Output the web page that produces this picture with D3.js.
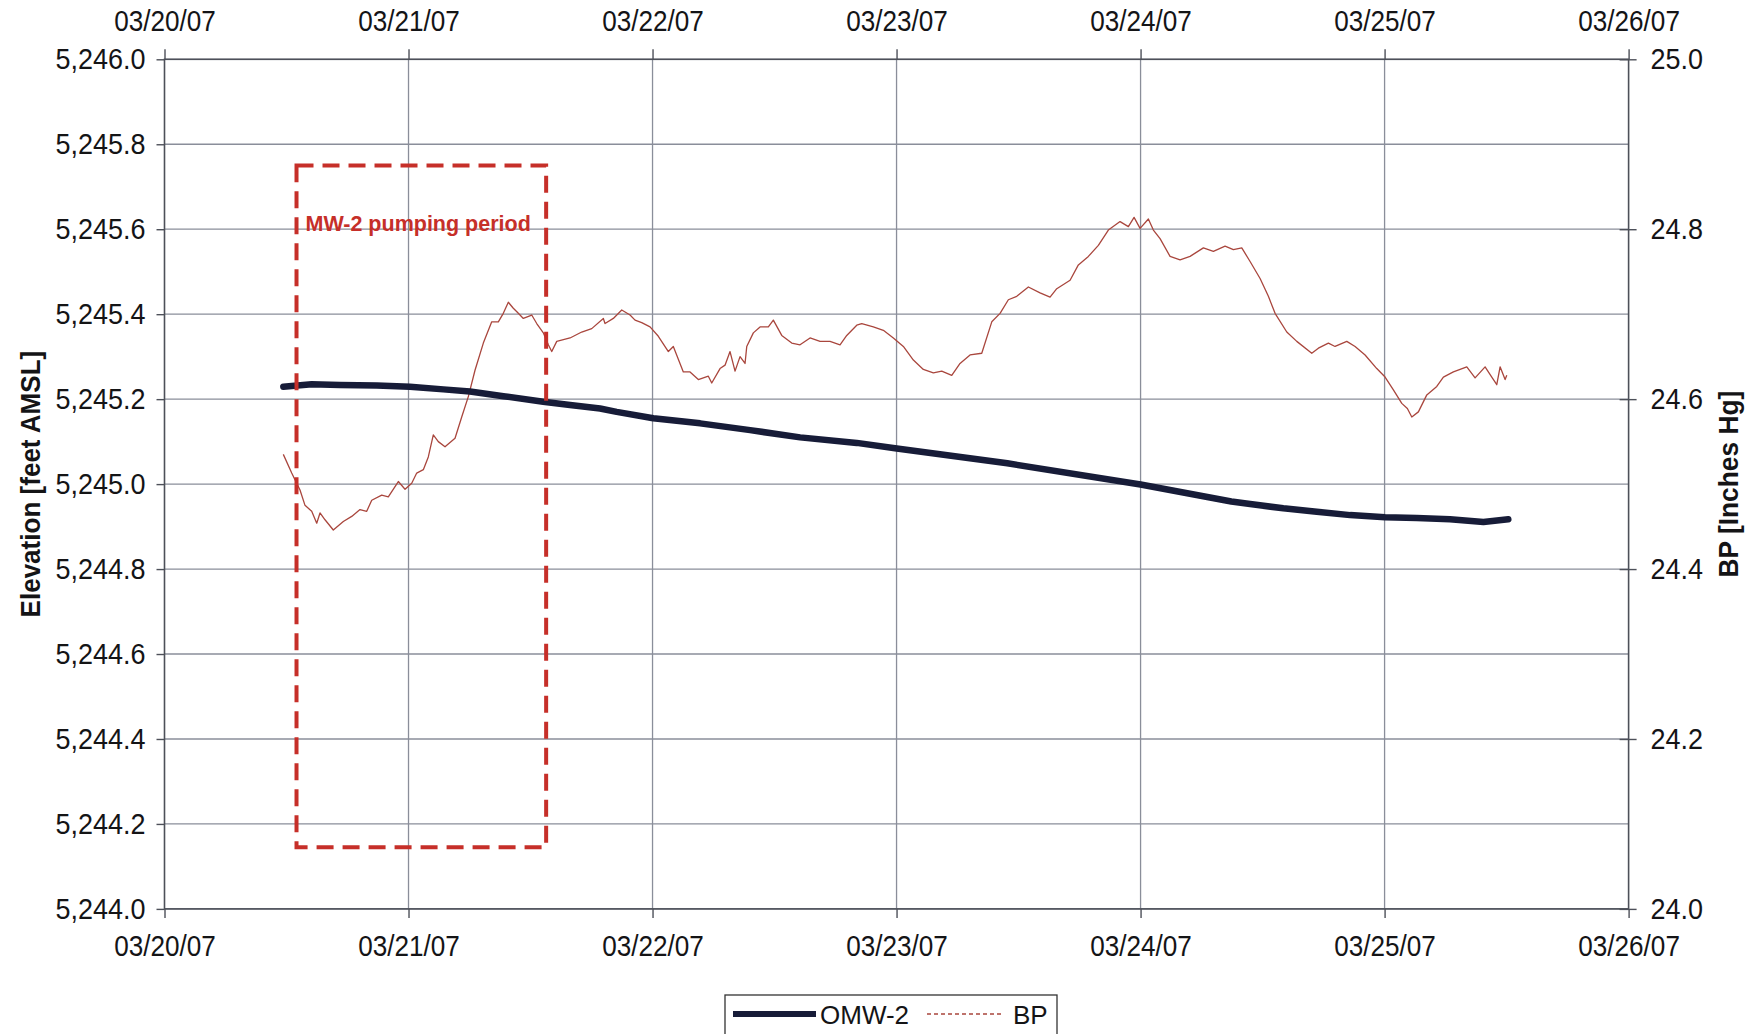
<!DOCTYPE html>
<html><head><meta charset="utf-8">
<script src="https://cdn.jsdelivr.net/npm/d3@7"></script>
<style>
html,body{margin:0;padding:0;background:#fff;}
svg{display:block;font-family:"Liberation Sans",Arial,sans-serif;}
</style></head>
<body>
<svg id="chart" width="1755" height="1034"></svg>
<script>
// ---------- DATA ----------
const startDate = new Date(2007, 2, 20); // 03/20/07
const xTickLabels = ["03/20/07","03/21/07","03/22/07","03/23/07","03/24/07","03/25/07","03/26/07"];
const leftTickLabels = ["5,244.0","5,244.2","5,244.4","5,244.6","5,244.8","5,245.0","5,245.2","5,245.4","5,245.6","5,245.8","5,246.0"];
const rightTickLabels = ["24.0","24.2","24.4","24.6","24.8","25.0"];

// OMW-2 elevation (feet AMSL), time in days after 03/20/07 00:00
const omwDays = [0.487,0.603,0.719,0.870,1.006,1.143,1.252,1.389,1.552,1.662,1.785,1.853,2.003,2.195,2.400,2.605,2.837,3.001,3.454,4.000,4.372,4.449,4.585,4.722,4.859,5.002,5.132,5.268,5.405,5.507];
const omwElev = [5245.229,5245.235,5245.233,5245.232,5245.229,5245.223,5245.218,5245.207,5245.194,5245.186,5245.178,5245.170,5245.155,5245.143,5245.127,5245.110,5245.097,5245.084,5245.049,5244.999,5244.959,5244.953,5244.943,5244.935,5244.927,5244.922,5244.920,5244.917,5244.911,5244.917];

// Barometric pressure (inches Hg)
const bpDays = [0.4869,0.5213,0.5553,0.5758,0.6033,0.6238,0.6373,0.6578,0.6918,0.7328,0.7672,0.8012,0.8287,0.8492,0.8902,0.9172,0.9582,0.9857,1.0131,1.0336,1.0607,1.0811,1.1016,1.1221,1.1496,1.1906,1.2180,1.2451,1.2725,1.3066,1.3410,1.3680,1.3885,1.4090,1.4295,1.4500,1.4705,1.5049,1.5254,1.5525,1.5730,1.5869,1.6074,1.6619,1.7098,1.7508,1.7984,1.8053,1.8393,1.8738,1.9078,1.9283,1.9557,1.9898,2.0238,2.0648,2.0852,2.1262,2.1537,2.1877,2.2287,2.2426,2.2766,2.2971,2.3176,2.3381,2.3586,2.3791,2.3861,2.4131,2.4406,2.4746,2.4951,2.5295,2.5705,2.6045,2.6455,2.6865,2.7275,2.7684,2.7959,2.8369,2.8574,2.9049,2.9459,2.9869,3.0279,3.0689,3.1098,3.1508,3.1852,3.2262,3.2602,3.3012,3.3492,3.3902,3.4242,3.4582,3.4926,3.5402,3.5881,3.6291,3.6566,3.7111,3.7451,3.7861,3.8270,3.8680,3.9160,3.9500,3.9734,3.9980,4.0320,4.0525,4.0799,4.1209,4.1619,4.2029,4.2574,4.2984,4.3463,4.3803,4.4148,4.4488,4.4898,4.5238,4.5512,4.5992,4.6402,4.7016,4.7287,4.7697,4.7971,4.8451,4.8791,4.9201,4.9680,5.0020,5.0361,5.0705,5.0934,5.1115,5.1385,5.1730,5.2139,5.2410,5.2820,5.3369,5.3709,5.4119,5.4393,5.4598,5.4734,5.4939,5.5008];
const bpValues = [24.535,24.513,24.493,24.475,24.468,24.454,24.466,24.458,24.446,24.456,24.462,24.470,24.468,24.481,24.487,24.485,24.503,24.494,24.501,24.513,24.517,24.532,24.558,24.550,24.544,24.554,24.579,24.603,24.634,24.666,24.691,24.691,24.701,24.714,24.707,24.701,24.695,24.699,24.689,24.678,24.664,24.656,24.668,24.672,24.679,24.683,24.695,24.689,24.695,24.705,24.699,24.693,24.690,24.685,24.674,24.656,24.662,24.632,24.632,24.623,24.627,24.619,24.636,24.640,24.656,24.633,24.650,24.642,24.662,24.678,24.685,24.685,24.693,24.675,24.666,24.664,24.672,24.668,24.668,24.664,24.675,24.687,24.689,24.685,24.681,24.672,24.662,24.646,24.635,24.631,24.633,24.628,24.642,24.652,24.654,24.691,24.701,24.717,24.721,24.732,24.725,24.720,24.730,24.740,24.758,24.768,24.781,24.799,24.809,24.803,24.814,24.801,24.812,24.799,24.789,24.768,24.764,24.768,24.778,24.774,24.780,24.776,24.778,24.762,24.742,24.721,24.701,24.679,24.668,24.654,24.660,24.666,24.662,24.668,24.662,24.652,24.636,24.626,24.611,24.595,24.589,24.579,24.585,24.605,24.615,24.626,24.632,24.638,24.625,24.638,24.626,24.617,24.638,24.623,24.628];

// MW-2 pumping period annotation (days after start, elevation extent)
const pumpDays = [0.541, 1.564];
const pumpElev = [5244.145, 5245.75];
const pumpLabel = "MW-2 pumping period";

const seriesNames = ["OMW-2", "BP"];

// ---------- LAYOUT ----------
const L = 164.5, R = 1628.6, T = 59.3, B = 908.9;
const dayMs = 86400000;
const toDate = d => new Date(startDate.getTime() + d * dayMs);

const svg = d3.select("#chart");
const x = d3.scaleTime().domain([startDate, toDate(6)]).range([L, R]);
const yL = d3.scaleLinear().domain([5244.0, 5246.0]).range([B, T]);
const yR = d3.scaleLinear().domain([24.0, 25.0]).range([B, T]);

const gridColor = "#8a8e9a";
const frameColor = "#4d5059";
const textColor = "#141416";

function condense(sel, f) {
  sel.each(function () {
    const w = this.getComputedTextLength();
    d3.select(this).attr("textLength", w * f).attr("lengthAdjust", "spacingAndGlyphs");
  });
}

const xTicks = d3.range(0, 7).map(toDate);
const yTicksL = d3.range(0, 11).map(i => 5244 + i * 0.2);
const yTicksR = d3.range(0, 6).map(i => 24 + i * 0.2);

// gridlines
const grid = svg.append("g");
grid.selectAll("line.h").data(yTicksL).join("line")
  .attr("x1", L).attr("x2", R).attr("y1", d => yL(d)).attr("y2", d => yL(d))
  .attr("stroke", gridColor).attr("stroke-width", 1.3);
grid.selectAll("line.v").data(xTicks.slice(1, 6)).join("line")
  .attr("x1", d => x(d)).attr("x2", d => x(d)).attr("y1", T).attr("y2", B)
  .attr("stroke", gridColor).attr("stroke-width", 1.3);

// frame
svg.append("rect").attr("x", L).attr("y", T).attr("width", R - L).attr("height", B - T)
  .attr("fill", "none").attr("stroke", frameColor).attr("stroke-width", 1.6);

// axes via d3
const axB = svg.append("g").attr("transform", `translate(0,${B})`)
  .call(d3.axisBottom(x).tickValues(xTicks).tickFormat((d, i) => xTickLabels[i]).tickSize(9).tickPadding(18));
const axT = svg.append("g").attr("transform", `translate(0,${T})`)
  .call(d3.axisTop(x).tickValues(xTicks).tickFormat((d, i) => xTickLabels[i]).tickSize(10).tickPadding(18));
const axLft = svg.append("g").attr("transform", `translate(${L},0)`)
  .call(d3.axisLeft(yL).tickValues(yTicksL).tickFormat((d, i) => leftTickLabels[i]).tickSize(8).tickPadding(11));
const axRgt = svg.append("g").attr("transform", `translate(${R},0)`)
  .call(d3.axisRight(yR).tickValues(yTicksR).tickFormat((d, i) => rightTickLabels[i]).tickSize(8).tickPadding(14));

[axB, axT, axLft, axRgt].forEach(a => {
  a.select(".domain").remove();
  a.selectAll(".tick line").attr("stroke", frameColor).attr("stroke-width", 1.4);
  a.selectAll(".tick text").attr("font-size", 29).attr("fill", textColor)
    .attr("font-family", "'Liberation Sans', Arial, sans-serif");
});
// right ticks cross the axis
axRgt.selectAll(".tick line").attr("x1", -9).attr("x2", 8);
condense(axB.selectAll(".tick text"), 0.9);
condense(axT.selectAll(".tick text"), 0.9);
condense(axLft.selectAll(".tick text"), 0.93);
condense(axRgt.selectAll(".tick text"), 0.93);

// axis titles
const tl = svg.append("text").attr("transform", `translate(30,${(T + B) / 2}) rotate(-90)`)
  .attr("text-anchor", "middle").attr("dominant-baseline", "central")
  .attr("font-size", 28).attr("font-weight", "bold").attr("fill", textColor)
  .text("Elevation [feet AMSL]");
condense(tl, 0.93);
const tr = svg.append("text").attr("transform", `translate(1728,${(T + B) / 2}) rotate(-90)`)
  .attr("text-anchor", "middle").attr("dominant-baseline", "central")
  .attr("font-size", 28).attr("font-weight", "bold").attr("fill", textColor)
  .text("BP [Inches Hg]");
condense(tr, 0.94);

// series
const bpData = bpDays.map((d, i) => ({ t: toDate(d), v: bpValues[i] }));
const omwData = omwDays.map((d, i) => ({ t: toDate(d), v: omwElev[i] }));

svg.append("path").datum(bpData)
  .attr("d", d3.line().x(d => x(d.t)).y(d => yR(d.v)))
  .attr("fill", "none").attr("stroke", "#a9463d").attr("stroke-width", 1.3)
  .attr("stroke-linejoin", "round");

svg.append("path").datum(omwData)
  .attr("d", d3.line().x(d => x(d.t)).y(d => yL(d.v)).curve(d3.curveLinear))
  .attr("fill", "none").attr("stroke", "#171c38").attr("stroke-width", 6.5)
  .attr("stroke-linejoin", "round").attr("stroke-linecap", "round");

// pumping period box
const bx1 = x(toDate(pumpDays[0])), bx2 = x(toDate(pumpDays[1]));
const by1 = yL(pumpElev[1]), by2 = yL(pumpElev[0]);
svg.append("rect").attr("x", bx1).attr("y", by1).attr("width", bx2 - bx1).attr("height", by2 - by1)
  .attr("fill", "none").attr("stroke", "#c62f29").attr("stroke-width", 4)
  .attr("stroke-dasharray", "17,9");
svg.append("text").attr("x", bx1 + 9).attr("y", by1 + 65)
  .attr("font-size", 21.5).attr("font-weight", "bold").attr("fill", "#c62f29")
  .text(pumpLabel);

// legend
const lg = svg.append("g");
lg.append("rect").attr("x", 725).attr("y", 995).attr("width", 332).attr("height", 50)
  .attr("fill", "#fff").attr("stroke", "#333").attr("stroke-width", 1.3);
lg.append("line").attr("x1", 733).attr("x2", 816).attr("y1", 1014).attr("y2", 1014)
  .attr("stroke", "#171c38").attr("stroke-width", 6);
lg.append("text").attr("x", 820).attr("y", 1024).attr("font-size", 26).attr("fill", textColor).text(seriesNames[0]);
lg.append("line").attr("x1", 927).attr("x2", 1004).attr("y1", 1014).attr("y2", 1014)
  .attr("stroke", "#a9463d").attr("stroke-width", 1.3).attr("stroke-dasharray", "4,3");
lg.append("text").attr("x", 1013).attr("y", 1024).attr("font-size", 26).attr("fill", textColor).text(seriesNames[1]);
</script>
</body></html>
